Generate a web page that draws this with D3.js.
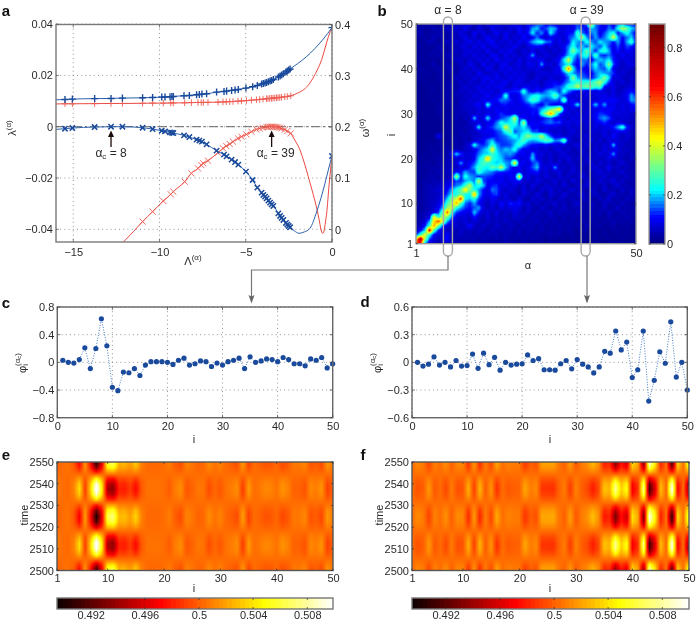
<!DOCTYPE html>
<html><head><meta charset="utf-8">
<script src="https://cdn.jsdelivr.net/npm/d3@7/dist/d3.min.js"></script>
<style>
html,body{margin:0;padding:0;background:#fff}
#wrap{position:relative;width:697px;height:623px;overflow:hidden}
canvas,svg{position:absolute;left:0;top:0}
canvas{filter:blur(.6px)}
svg{filter:blur(.3px)}
text{font-family:"Liberation Sans",Arial,sans-serif;font-size:11px;fill:#2a2a2a}
</style></head><body><div id="wrap"></div>
<script>
// ---------- panel a ----------
const blueLam=[-15.48,-15.05,-13.76,-12.81,-12.15,-10.98,-10.40,-9.87,-9.68,-9.39,-9.28,-9.20,-8.58,-8.27,-7.85,-7.69,-7.54,-7.27,-6.69,-6.26,-6.11,-5.82,-5.62,-5.43,-4.99,-4.60,-4.33,-4.08,-3.98,-3.88,-3.79,-3.69,-3.59,-3.50,-3.40,-3.11,-3.01,-2.92,-2.82,-2.67,-2.59,-2.51,-2.43,0];
const blueOmega=[.2537,.2544,.2554,.2557,.2564,.2570,.2577,.2583,.2586,.2590,.2593,.2596,.2609,.2616,.2629,.2635,.2642,.2648,.2681,.2694,.2700,.2714,.2723,.2733,.2759,.2785,.2811,.2838,.2851,.2860,.2870,.2883,.2896,.2909,.2928,.2975,.2994,.3014,.3040,.3072,.3092,.3112,.3131,.3940];
const blueLambda=[-.00078,-.00052,-.00013,0,0,-.00039,-.00091,-.00156,-.00182,-.00221,-.00234,-.00247,-.00338,-.00403,-.00506,-.00545,-.00584,-.00688,-.00935,-.01091,-.01156,-.01286,-.01377,-.01481,-.01753,-.02078,-.02377,-.02571,-.02662,-.02727,-.02792,-.02883,-.02961,-.03026,-.03091,-.03377,-.03481,-.03558,-.03636,-.03753,-.03818,-.03870,-.03922,-.01143];
const blueOmegaCurveLam=[-16,-2,-1.5,-1,-.5];
const blueOmegaCurve=[.2531,.3235,.3366,.3529,.3718];
const blueLambdaCurveLam=[-16,-2.2,-1.91,-1.6,-1.275,-.887,-.406,-.2];
const blueLambdaCurve=[-.00104,-.0405,-.04156,-.0410,-.0396,-.03314,-.02207,-.0165];
const redLam=[-15.48,-15.05,-13.76,-12.81,-12.15,-10.98,-10.40,-9.78,-9.35,-9.20,-8.54,-8.15,-7.77,-7.58,-7.46,-7.19,-6.61,-6.32,-6.13,-5.93,-5.74,-5.45,-5.25,-4.96,-4.67,-4.38,-4.19,-4.0,-3.8,-3.71,-3.61,-3.51,-3.42,-3.32,-3.22,-3.13,-3.03,-2.93,-2.74,-2.59,-2.39];
const redOmega=[.2453,.2453,.2456,.2459,.2459,.2463,.2466,.2466,.2469,.2469,.2472,.2476,.2479,.2479,.2479,.2482,.2485,.2489,.2492,.2495,.2498,.2505,.2508,.2515,.2524,.2531,.2537,.2544,.2551,.2554,.2557,.2560,.2564,.2567,.2570,.2573,.2577,.2580,.2590,.2596,.2609];
const redXLam=[-10.98,-10.40,-9.78,-9.35,-9.20,-8.54,-8.15,-7.77,-7.58,-7.46,-7.19,-6.61,-6.32,-6.13,-5.93,-5.74,-5.45,-5.25,-4.96,-4.67,-4.38,-4.19,-4.0,-3.8,-3.71,-3.61,-3.51,-3.42,-3.32,-3.22,-3.13,-3.03,-2.93,-2.74,-2.59,-2.39];
const redLambda=[-.0370,-.03312,-.02896,-.02636,-.02532,-.02143,-.01818,-.01623,-.01494,-.01429,-.01325,-.01013,-.00844,-.00753,-.00675,-.00584,-.00455,-.0039,-.00299,-.00195,-.00104,-.00065,-.00039,-.00013,-.00006,0,0,0,-.00006,-.00013,-.00026,-.00039,-.00065,-.00117,-.00169,-.0026];
const redOmegaCurveLam=[-16,-2,-1.7,-1.4,-1.1,-.8,-.6,-.4,-.2,0];
const redOmegaCurve=[.2450,.2661,.2714,.2805,.2955,.3151,.3314,.3542,.3770,.3940];
const redLambdaCurveLam=[-12.2,-11.5,-2.26,-2.09,-1.855,-1.62,-1.374,-1.16,-.887,-.72,-.62,-.539,-.46,-.38,-.307,-.17,0];
const redLambdaCurve=[-.0457,-.0408,-.004,-.00596,-.00908,-.01376,-.01949,-.02468,-.0317,-.03715,-.04066,-.04156,-.04066,-.03715,-.03364,-.02272,-.01143];
const lamTicks=[-15,-10,-5,0], lambdaTicks=[-.04,-.02,0,.02,.04], omegaTicks=[0,.1,.2,.3,.4];
const arrowLam=[-12.81,-3.5], arrowLabels=["8","39"];

// ---------- panel b : rows run from i=50 (top) to i=1 (bottom), hundredths ----------
const overlapRows=[
[3,2,4,5,3,2,5,3,7,4,8,5,9,4,7,4,9,6,10,5,9,6,11,7,5,12,10,14,16,9,11,8,6,10,7,11,14,9,16,42,16,12,8,14,9,16,18,11,13,9],
[2,4,3,2,5,3,4,6,4,8,5,10,6,3,9,5,4,10,6,8,4,9,6,12,7,10,18,20,11,14,20,18,9,7,10,8,16,13,10,20,16,11,9,16,12,24,36,30,20,16],
[3,5,2,4,3,5,3,4,6,5,9,6,4,11,6,9,5,7,11,6,10,7,5,11,8,12,22,12,17,9,22,14,7,9,11,12,26,16,11,16,18,9,14,20,24,11,18,24,16,9],
[2,3,4,2,6,3,5,2,7,4,6,10,5,9,4,7,11,6,8,4,11,5,9,6,12,7,10,16,9,7,10,8,9,7,13,16,22,35,18,11,18,12,16,22,40,18,11,16,20,10],
[3,2,3,5,4,2,4,6,3,8,5,7,11,5,10,6,9,12,5,9,6,10,5,11,7,12,18,22,24,16,14,7,10,6,11,22,18,14,24,18,14,22,18,16,11,18,9,18,26,11],
[2,4,2,3,2,5,3,3,6,4,7,9,4,10,6,11,5,8,10,5,8,6,11,7,5,8,10,11,9,6,9,6,8,10,16,24,16,20,14,22,18,14,22,14,9,14,8,14,12,8],
[3,2,3,2,4,3,5,3,4,6,5,7,9,6,8,5,11,6,5,10,7,11,6,5,9,6,9,5,9,7,5,9,6,9,18,33,22,18,30,20,12,22,26,18,8,12,7,11,9,6],
[2,3,2,4,3,4,2,5,6,4,5,9,5,10,6,8,5,11,9,5,10,6,9,5,7,9,18,7,6,9,7,5,9,12,20,22,14,22,26,14,28,14,12,16,11,7,11,7,9,6],
[2,3,3,2,3,2,4,3,4,6,7,4,8,5,9,6,9,5,11,7,8,9,5,10,6,9,7,9,10,6,6,9,11,22,40,18,11,16,16,9,16,20,18,22,12,9,7,9,7,6],
[3,2,2,3,5,2,3,5,3,4,6,5,10,7,4,11,6,9,5,9,10,5,8,9,6,9,10,6,18,7,9,5,14,18,24,14,9,18,12,16,24,14,18,33,14,8,6,8,9,6],
[2,4,3,2,3,4,2,4,6,3,5,8,5,9,6,5,11,7,5,10,7,11,6,9,5,8,7,9,7,5,6,9,10,26,55,22,11,12,9,14,20,16,14,22,9,7,6,7,6,5],
[2,2,3,3,2,3,4,3,4,3,7,5,8,4,11,7,5,8,9,5,10,6,10,7,9,6,5,7,8,9,7,9,9,14,22,18,14,14,11,9,16,20,18,16,13,6,8,6,5,6],
[2,3,2,3,2,3,3,2,4,6,4,7,5,9,6,9,11,6,10,7,6,10,7,9,8,6,5,9,7,5,9,6,7,10,16,34,18,16,14,11,16,22,33,20,7,9,6,5,7,5],
[2,2,3,2,2,3,3,4,3,4,7,4,8,6,5,10,6,11,7,9,11,6,9,10,7,6,9,7,5,9,9,11,8,13,18,22,26,24,26,24,30,36,24,13,8,6,9,5,7,6],
[2,2,2,3,3,2,4,3,6,3,5,8,5,7,9,6,10,7,9,10,7,5,10,7,9,10,7,10,6,9,10,13,14,18,26,28,38,28,32,30,26,28,11,8,9,6,5,7,8,4],
[2,2,2,2,3,2,3,4,3,4,7,5,8,6,8,10,7,9,6,9,10,12,12,13,26,13,9,12,11,16,20,18,13,24,16,12,8,10,7,9,8,10,7,6,9,5,7,9,11,9],
[2,2,2,3,2,3,2,4,3,5,4,7,5,9,7,8,11,7,9,11,26,9,8,10,16,18,22,24,20,18,20,30,18,13,9,7,9,6,9,6,9,8,10,7,9,6,8,10,18,12],
[2,2,2,2,3,2,4,3,4,3,6,5,8,6,8,10,8,10,11,16,15,13,8,10,13,20,27,24,16,13,15,16,13,30,9,10,6,8,6,8,7,10,9,11,11,9,7,9,18,16],
[2,2,2,2,2,3,2,3,4,3,5,7,6,9,11,7,24,10,8,11,12,9,10,8,11,12,16,12,9,16,11,9,10,8,9,11,22,8,6,9,20,10,18,8,10,7,9,7,10,13],
[2,2,2,2,2,3,3,2,3,4,5,6,7,6,9,7,10,8,11,8,10,9,8,10,9,10,11,12,18,22,30,36,46,12,7,9,6,8,6,9,8,10,9,11,10,7,9,7,10,8],
[2,2,2,2,2,3,2,3,3,4,5,4,7,6,8,7,9,8,10,13,10,9,11,8,10,9,12,10,24,36,52,32,14,8,9,6,9,6,8,7,10,13,12,10,7,9,7,8,6,7],
[2,2,2,2,2,2,3,3,2,5,3,6,4,20,7,9,22,9,10,13,16,20,38,13,11,8,10,8,10,13,15,9,10,8,6,9,7,9,6,8,10,15,18,14,9,6,8,7,6,5],
[2,2,2,2,2,2,2,3,3,3,4,3,7,6,8,7,9,10,16,24,20,22,28,14,36,9,11,9,12,14,16,13,14,8,9,7,9,6,8,6,9,10,13,9,6,9,7,6,5,6],
[2,2,2,2,2,2,2,3,2,4,3,5,4,8,22,7,11,13,18,20,42,24,20,18,22,16,9,11,7,10,8,9,7,6,8,6,8,5,7,6,9,6,8,9,12,18,26,12,7,5],
[2,2,2,2,2,2,2,3,3,3,5,3,6,5,8,9,10,10,13,16,24,30,14,18,20,22,14,14,9,10,7,6,8,5,7,9,5,7,5,8,6,7,9,6,8,10,9,8,5,6],
[2,2,2,2,2,10,3,2,3,3,4,5,4,7,6,9,8,10,12,14,16,20,24,18,26,34,28,26,38,22,14,8,9,6,8,5,7,5,8,6,7,5,9,6,12,7,5,7,6,4],
[2,2,2,2,2,3,2,3,3,4,3,5,4,7,9,10,16,20,12,13,14,16,18,22,28,20,18,20,24,28,26,16,18,30,8,6,4,8,5,9,5,8,4,9,6,8,6,7,4,5],
[2,2,2,3,2,3,3,3,2,4,3,6,9,24,14,12,16,26,18,13,13,14,20,26,18,13,11,10,8,10,7,9,6,8,5,7,9,5,8,4,7,5,8,6,20,5,7,4,6,3],
[2,2,2,3,3,2,3,4,3,5,4,6,7,8,13,18,22,42,20,16,20,18,24,14,9,10,7,9,6,8,5,7,9,5,8,4,6,8,5,4,8,5,9,6,7,9,5,7,4,5],
[2,2,3,2,3,3,4,3,10,20,13,7,8,10,16,20,20,26,22,18,16,18,14,9,11,7,18,8,9,6,8,5,7,9,5,6,4,8,5,7,5,9,6,8,18,5,7,4,6,3],
[2,3,2,3,3,4,3,5,4,7,6,8,7,10,20,26,50,26,22,20,14,13,11,9,8,10,20,9,7,5,8,4,7,6,9,5,7,4,8,5,7,5,6,9,6,7,5,4,6,4],
[2,2,3,3,2,4,3,5,6,7,18,8,10,14,22,28,26,22,20,22,18,16,45,9,11,7,13,16,8,6,9,5,8,4,7,6,4,7,5,9,4,8,5,7,4,6,8,5,4,3],
[2,3,3,3,4,3,5,4,6,5,8,7,12,18,26,24,22,30,26,38,20,13,9,11,7,10,14,20,7,9,6,18,5,7,4,8,5,6,4,7,8,5,6,10,5,7,4,6,3,5],
[2,3,2,4,3,5,4,6,5,11,11,18,14,13,27,20,18,16,13,12,12,11,9,10,7,9,10,12,6,8,5,7,9,4,6,8,5,7,4,5,6,9,5,7,4,6,8,4,5,3],
[3,2,3,4,4,3,5,4,7,35,12,24,18,16,12,14,13,12,9,10,8,11,9,42,7,9,6,8,5,9,6,4,8,5,7,4,6,9,5,4,7,5,8,4,6,5,4,7,3,5],
[2,3,4,3,5,4,6,7,8,14,12,18,20,16,38,14,11,10,9,11,7,9,10,12,6,8,5,9,7,4,6,8,5,7,4,9,5,3,7,5,4,8,5,6,9,4,7,3,5,4],
[3,2,4,5,4,6,7,9,11,16,18,26,38,20,24,20,9,12,13,7,10,6,9,5,8,4,9,6,4,8,5,7,4,9,5,3,7,5,8,4,6,4,7,3,6,8,4,5,3,4],
[2,3,4,5,6,7,8,11,18,24,30,46,30,24,18,11,8,16,14,8,5,9,6,4,9,5,7,3,8,5,9,4,7,3,6,8,4,6,3,7,5,3,8,4,5,3,7,4,6,3],
[3,3,4,5,5,6,8,14,22,24,30,24,22,50,18,11,8,12,14,6,9,5,7,4,8,6,4,9,5,3,8,6,4,9,5,3,6,8,4,5,7,4,3,6,8,4,5,3,6,3],
[2,3,4,5,5,7,10,20,33,38,60,22,20,24,14,9,7,10,8,5,8,6,4,9,5,3,8,5,7,4,6,3,7,5,4,6,3,7,5,4,3,6,4,8,3,5,3,6,4,3],
[3,3,4,5,6,8,13,28,36,50,28,16,12,18,10,7,5,9,6,12,7,13,10,12,6,8,4,7,3,6,5,8,4,6,3,5,8,4,3,6,4,3,7,4,5,3,6,3,4,3],
[3,2,4,5,7,10,18,34,40,24,18,13,11,14,18,8,5,8,4,9,6,8,9,8,4,7,5,3,7,5,3,6,4,7,3,5,4,6,3,5,4,3,6,3,4,7,3,5,3,4],
[2,4,5,6,8,13,30,56,24,14,11,9,8,20,12,6,8,5,9,4,7,5,9,6,4,7,3,6,4,5,7,3,6,4,5,3,6,4,3,5,3,5,3,6,4,3,5,3,4,3],
[3,4,5,8,42,24,38,32,16,9,7,8,6,12,7,5,8,4,7,5,6,4,8,5,7,3,6,4,5,3,6,4,3,5,3,5,3,4,3,5,3,4,2,5,3,4,3,5,3,3],
[3,5,8,18,45,58,38,18,9,7,6,8,5,8,6,4,7,5,6,4,7,5,4,6,3,5,4,6,3,5,3,5,3,4,3,4,3,5,3,3,4,2,4,3,5,3,4,3,4,2],
[3,6,12,26,52,32,13,8,6,7,5,7,12,6,4,7,5,4,7,5,4,6,5,3,6,4,5,3,5,3,4,3,5,3,4,3,4,2,5,3,3,4,2,3,4,2,3,3,2,3],
[5,10,20,66,28,12,7,5,6,4,7,5,6,4,6,5,3,6,4,5,4,5,3,5,3,5,4,3,5,3,4,3,4,3,4,3,2,4,3,2,3,2,3,2,3,3,2,3,2,2],
[12,26,42,24,10,8,6,11,5,4,6,4,5,4,5,3,5,4,5,3,5,4,3,5,3,4,3,4,3,3,4,3,4,2,3,3,2,3,2,3,3,2,3,2,2,3,2,3,2,2],
[44,78,34,14,8,6,7,11,4,5,4,5,4,5,3,5,4,3,4,3,5,3,4,3,4,3,4,3,3,2,3,3,2,3,2,3,2,3,2,2,3,2,2,3,2,2,3,2,2,2],
[62,60,18,7,6,4,4,7,4,3,4,3,4,4,3,4,3,4,3,3,4,3,3,2,4,3,2,3,3,2,3,2,3,2,3,2,2,3,2,2,2,2,1,2,2,3,2,2,2,1]
];
const indexTicks=[1,10,20,30,40,50], alphaTicks=[1,50], overlapBarTicks=[0,.2,.4,.6,.8];
const selectedAlpha=[8,39];

// ---------- panels c, d ----------
const phiC=[.03,0,-.01,.04,.21,-.09,.20,.63,.24,-.36,-.41,-.14,-.15,-.09,-.19,-.04,.01,.01,.01,0,-.03,.03,.06,-.04,-.02,.02,.01,-.06,-.01,-.04,.01,.03,.06,-.09,.08,0,.02,.05,.04,.01,.07,.04,-.02,-.02,-.05,.05,.03,.07,-.08,-.02];
const phiD=[0,-.04,-.02,.06,-.03,0,-.05,.02,-.04,-.035,.09,-.065,.10,-.025,.055,-.085,0,-.03,-.02,-.015,.08,.02,.04,-.08,-.08,-.085,-.015,.02,-.07,.03,-.02,-.05,-.115,-.05,.12,.10,.34,.135,.22,-.165,-.08,.34,-.42,-.195,.115,-.01,.44,-.16,0,-.30];
const phiXTicks=[0,10,20,30,40,50], phiCTicks=[-.8,-.4,0,.4,.8], phiDTicks=[-.6,-.3,0,.3,.6];

// ---------- panels e, f ----------
const times=[2500,2502.5,2505,2507.5,2510,2512.5,2515,2517.5,2520,2522.5,2525,2527.5,2530,2532.5,2535,2537.5,2540,2542.5,2545,2547.5,2550];
const timeSwing=[-.94,-.58,-.02,.55,.93,.98,.68,.15,-.44,-.87,-1,-.77,-.28,.31,.80,1,.85,.40,-.19,-.71,-.98];
const swingC=.0167, swingD=.022, mean=.5004;
const timeTicks=[2500,2510,2520,2530,2540,2550], heatBarTicks=[.492,.496,.5,.504,.508];

const W=697,H=623;
const wrap=d3.select("#wrap");
const canvas=wrap.append("canvas").attr("width",W).attr("height",H).node();
const ctx=canvas.getContext("2d");
const svg=wrap.append("svg").attr("width",W).attr("height",H);
const defs=svg.append("defs");
const FR="#7a7a7a",TXT="#2a2a2a",BLUE="#1a4a9c",RED="#e8352c",PALE="#ee5a50";

const minusFmt=f=>v=>d3.format(f)(v).replace("-","\u2212");
const jetColor=d3.scaleLinear().domain([0,.11,.22,.43,.64,.9]).range(["#000080","#0000ff","#00ffff","#ffff00","#ff0000","#6b0000"]).clamp(true);
const hotColor=d3.scaleLinear().domain([.4895,.49715,.5048,.5099]).range(["#0a0000","#ff0000","#ffff00","#ffffff"]).clamp(true);

function paint(x0,y0,w,h,fn){
  const img=ctx.createImageData(w,h);
  for(let py=0;py<h;py++)for(let px=0;px<w;px++){
    const c=d3.rgb(fn(px+.5,py+.5)),k=4*(py*w+px);
    img.data[k]=c.r;img.data[k+1]=c.g;img.data[k+2]=c.b;img.data[k+3]=255;
  }
  ctx.putImageData(img,x0,y0);
}
function bilinear(rows,fr,fc){
  const r0=Math.max(0,Math.min(rows.length-1,Math.floor(fr))),r1=Math.min(rows.length-1,r0+1),
        c0=Math.max(0,Math.min(rows[0].length-1,Math.floor(fc))),c1=Math.min(rows[0].length-1,c0+1),
        a=fr-r0,b=fc-c0;
  return (rows[r0][c0]*(1-b)+rows[r0][c1]*b)*(1-a)+(rows[r1][c0]*(1-b)+rows[r1][c1]*b)*a;
}
function frame(x0,y0,w,h,col,sw){
  svg.append("rect").attr("x",x0).attr("y",y0).attr("width",w).attr("height",h).attr("fill","none").attr("stroke",col||FR).attr("stroke-width",sw||1.4);
}
function axis(gen,tx,ty,vals,fmt,size){
  const g=svg.append("g").attr("transform",`translate(${tx},${ty})`).call(gen.tickValues(vals).tickFormat(fmt).tickSize(size).tickPadding(0));
  g.select(".domain").remove();
  g.selectAll("line").attr("stroke","#555").attr("stroke-width",.7);
  g.selectAll("text").attr("fill",TXT).style("font-size","11px").style("font-family",'"Liberation Sans",Arial,sans-serif');
  return g;
}
function gridLines(xs,ys,x,y,xr,yr){
  const g=svg.append("g").attr("stroke","#777").attr("stroke-width",.8).attr("stroke-dasharray","1 3.2");
  xs.forEach(v=>g.append("line").attr("x1",x(v)).attr("x2",x(v)).attr("y1",yr[0]).attr("y2",yr[1]));
  ys.forEach(v=>g.append("line").attr("y1",y(v)).attr("y2",y(v)).attr("x1",xr[0]).attr("x2",xr[1]));
}
function label(x,y,t,opt={}){
  const el=svg.append("text").attr("x",x).attr("y",y).attr("text-anchor",opt.anchor||"middle").attr("dominant-baseline","central").text(t);
  if(opt.rot)el.attr("transform",`rotate(${opt.rot},${x},${y})`);
  if(opt.bold)el.style("font-weight","bold").style("font-size",opt.size+"px").style("fill","#111");
  if(opt.size&&!opt.bold)el.style("font-size",opt.size+"px");
  return el;
}
function sup(el,t,size,dy){el.append("tspan").attr("dy",dy).style("font-size",size+"px").text(t);}
[["a",6,10],["b",382,10],["c",6,302],["d",365,301],["e",6,454],["f",363,454]].forEach(d=>label(d[1],d[2],d[0],{bold:true,size:15}));

// ---- panel a ----
const ax={l:56,r:332,t:24.5,b:242};
const xL=d3.scaleLinear().domain([-16,0]).range([ax.l,ax.r]);
const yLam=d3.scaleLinear().domain([0,-.04]).range([126.7,229.3]);
const yOm=d3.scaleLinear().domain([0,.4]).range([229.5,24.5]);
gridLines(lamTicks,lambdaTicks,xL,yLam,[ax.l,ax.r],[ax.t,ax.b]);
defs.append("clipPath").attr("id","ca").append("rect").attr("x",ax.l).attr("y",ax.t).attr("width",ax.r-ax.l).attr("height",ax.b-ax.t);
const pa=svg.append("g").attr("clip-path","url(#ca)");
pa.append("line").attr("x1",ax.l).attr("x2",ax.r).attr("y1",yLam(0)).attr("y2",yLam(0)).attr("stroke","#666").attr("stroke-width",1).attr("stroke-dasharray","9 3 2 3");
function curve(lams,vals,exLam,exVal,y,col,sw){
  const pts=lams.map((l,i)=>[l,vals[i]]).concat(exLam.map((l,i)=>[l,exVal[i]])).sort((a,b)=>a[0]-b[0]);
  pa.append("path").attr("d",d3.line().x(d=>xL(d[0])).y(d=>y(d[1])).curve(d3.curveMonotoneX)(pts)).attr("fill","none").attr("stroke",col).attr("stroke-width",sw);
}
curve(redLam,redOmega,redOmegaCurveLam,redOmegaCurve,yOm,RED,.9);
curve(redXLam,redLambda,redLambdaCurveLam,redLambdaCurve,yLam,RED,.9);
curve(blueLam,blueOmega,blueOmegaCurveLam,blueOmegaCurve,yOm,"#2b62ae",1);
curve(blueLam,blueLambda,blueLambdaCurveLam,blueLambdaCurve,yLam,"#2b62ae",1);
function marks(lams,vals,y,type,size,col,sw){
  pa.append("g").selectAll("path").data(lams).join("path").attr("transform",(l,i)=>`translate(${xL(l)},${y(vals[i])})`)
    .attr("d",d3.symbol(type,size)()).attr("fill","none").attr("stroke",col).attr("stroke-width",sw);
}
marks(redLam,redOmega,yOm,d3.symbolPlus,16,PALE,.9);
marks(redXLam,redLambda,yLam,d3.symbolTimes,26,PALE,.9);
marks(blueLam,blueOmega,yOm,d3.symbolPlus,18,BLUE,1.4);
marks(blueLam,blueLambda,yLam,d3.symbolTimes,20,BLUE,1.5);
frame(ax.l,ax.t,ax.r-ax.l,ax.b-ax.t);
axis(d3.axisBottom(xL),0,ax.b+6,lamTicks,minusFmt("d"),0);
axis(d3.axisLeft(yLam),ax.l-3,0,lambdaTicks,v=>v===0?"0":minusFmt(".2f")(v),0);
axis(d3.axisRight(yOm),ax.r+3,0,omegaTicks,v=>v===0?"0":d3.format(".1f")(v),0);
{const g=svg.append("g").attr("stroke","#555").attr("stroke-width",.7);
 lamTicks.forEach(v=>{g.append("line").attr("x1",xL(v)).attr("x2",xL(v)).attr("y1",ax.b).attr("y2",ax.b-3);g.append("line").attr("x1",xL(v)).attr("x2",xL(v)).attr("y1",ax.t).attr("y2",ax.t+3);});
 lambdaTicks.forEach(v=>g.append("line").attr("x1",ax.l).attr("x2",ax.l+3).attr("y1",yLam(v)).attr("y2",yLam(v)));
 omegaTicks.forEach(v=>g.append("line").attr("x1",ax.r).attr("x2",ax.r-3).attr("y1",yOm(v)).attr("y2",yOm(v)));}
{let e=label(193,261,"\u039b",{});sup(e,"(\u03b1)",8,-4);
 e=label(12,128,"\u03bb",{rot:-90});sup(e,"(\u03b1)",8,-4);
 e=label(365,128,"\u03c9",{rot:-90});sup(e,"(\u03b1)",8,-4);}
arrowLam.forEach((l,i)=>{
  const x=xL(l);
  svg.append("line").attr("x1",x).attr("x2",x).attr("y1",147).attr("y2",135).attr("stroke","#1a0a0a").attr("stroke-width",1.3);
  svg.append("path").attr("d",d3.line()([[x,130.5],[x+3,137],[x-3,137]])+"Z").attr("fill","#1a0a0a");
  const e=label(x+(i?4:0),153,"\u03b1",{size:12});
  e.append("tspan").attr("dy",2.5).style("font-size","8px").text("c");
  e.append("tspan").attr("dy",-2.5).style("font-size","12px").text(" = "+arrowLabels[i]);
});

// ---- panel b ----
const bx={l:416,r:636,t:24,b:243.7};
const xA=d3.scaleLinear().domain([1,50]).range([bx.l,bx.r]);
const yI=d3.scaleLinear().domain([50,1]).range([bx.t,bx.b]);
paint(bx.l,bx.t,bx.r-bx.l,Math.round(bx.b-bx.t),(px,py)=>{
  const a=xA.invert(bx.l+px)-1, r=50-yI.invert(bx.t+py);
  return jetColor(bilinear(overlapRows,r,a)/100);
});
const yC=d3.scaleLinear().domain([0,.8]).range([244,47.8]);
const cb={l:649,r:665,t:24,b:244};
paint(cb.l,cb.t,cb.r-cb.l,cb.b-cb.t,(px,py)=>{
  const v=yC.invert(cb.t+py);
  return jetColor(Math.round(v/.9*64)/64*.9);
});
frame(bx.l,bx.t,bx.r-bx.l,bx.b-bx.t,"#999");
frame(cb.l,cb.t,cb.r-cb.l,cb.b-cb.t,"#999");
axis(d3.axisLeft(yI),bx.l-3,0,indexTicks,d3.format("d"),0);
axis(d3.axisBottom(xA),0,bx.b+5,alphaTicks,d3.format("d"),0);
axis(d3.axisRight(yC),cb.r+2,0,overlapBarTicks,v=>v===0?"0":d3.format(".1f")(v),0);
{const g=svg.append("g").attr("stroke","#333").attr("stroke-width",.7);
 indexTicks.forEach(v=>{g.append("line").attr("x1",bx.r).attr("x2",bx.r-2).attr("y1",yI(v)).attr("y2",yI(v));g.append("line").attr("x1",bx.l).attr("x2",bx.l+2).attr("y1",yI(v)).attr("y2",yI(v));});
 overlapBarTicks.forEach(v=>{g.append("line").attr("x1",cb.l).attr("x2",cb.l+2).attr("y1",yC(v)).attr("y2",yC(v));g.append("line").attr("x1",cb.r).attr("x2",cb.r-2).attr("y1",yC(v)).attr("y2",yC(v));});}
label(528,265,"\u03b1",{});
label(391,135,"i",{rot:-90});
selectedAlpha.forEach((a,i)=>{
  const x=xA(a)+(i?-1:0.5);
  svg.append("rect").attr("x",x-4.5).attr("y",17).attr("width",9).attr("height",239).attr("rx",4.5).attr("fill","none").attr("stroke","#aaa").attr("stroke-width",1.4);
  label(x+(i?1:0),10,"\u03b1 = "+a,{size:12});
});
const arrowG=svg.append("g").attr("fill","none").attr("stroke","#777").attr("stroke-width",1.2);
arrowG.append("path").attr("d","M448,256V270H251.5V297");
arrowG.append("path").attr("d","M587,256V297");
[251.5,587].forEach(x=>svg.append("path").attr("d",d3.line()([[x,303.5],[x+3,295],[x,296.5],[x-3,295]])+"Z").attr("fill","#666"));

// ---- panels c, d ----
function phiPanel(l,r,vals,yTicks,dom,lx,ix){
  const t=307,b=417.7;
  const x=d3.scaleLinear().domain([0,50]).range([l,r]),y=d3.scaleLinear().domain(dom).range([b,t]);
  gridLines(phiXTicks,yTicks,x,y,[l,r],[t,b]);
  const pts=vals.map((v,i)=>[i+1,v]);
  svg.append("path").attr("d",d3.line().x(d=>x(d[0])).y(d=>y(d[1]))(pts)).attr("fill","none").attr("stroke","#2f6dbf").attr("stroke-width",.9).attr("stroke-dasharray","1 1.6");
  svg.append("g").selectAll("circle").data(pts).join("circle").attr("cx",d=>x(d[0])).attr("cy",d=>y(d[1])).attr("r",2.6).attr("fill",BLUE);
  frame(l,t,r-l,b-t,"#666");
  axis(d3.axisBottom(x),0,b+4,phiXTicks,d3.format("d"),0);
  axis(d3.axisLeft(y),l-3,0,yTicks,v=>v===0?"0":minusFmt(".1f")(v),0);
  const g=svg.append("g").attr("stroke","#444").attr("stroke-width",.7);
  phiXTicks.forEach(v=>{g.append("line").attr("x1",x(v)).attr("x2",x(v)).attr("y1",b).attr("y2",b-3);g.append("line").attr("x1",x(v)).attr("x2",x(v)).attr("y1",t).attr("y2",t+3);});
  yTicks.forEach(v=>{g.append("line").attr("y1",y(v)).attr("y2",y(v)).attr("x1",l).attr("x2",l+3);g.append("line").attr("y1",y(v)).attr("y2",y(v)).attr("x1",r).attr("x2",r-3);});
  label(ix,439,"i",{});
  const e=label(lx,363,"\u03c6",{rot:-90,size:11});
  e.append("tspan").attr("dy",3).style("font-size","8px").text("i");
  e.append("tspan").attr("dy",-8).attr("dx",-2).style("font-size","8px").text("(\u03b1");
  e.append("tspan").attr("dy",2).style("font-size","6px").text("c");
  e.append("tspan").attr("dy",-2).style("font-size","8px").text(")");
}
phiPanel(57.3,332.7,phiC,phiCTicks,[-.8,.8],22,194);
phiPanel(412,687.3,phiD,phiDTicks,[-.6,.6],377,550);

// ---- panels e, f ----
const heatE=timeSwing.map(w=>phiC.map(p=>mean+swingC*p*w));
const heatF=timeSwing.map(w=>phiD.map(p=>mean+swingD*p*w));
function heatPanel(l,r,rows,lx,ix){
  const t=462,b=570.5,w=Math.round(r-l),h=Math.round(b-t);
  const x=d3.scaleLinear().domain([1,50]).range([l,r]),y=d3.scaleLinear().domain([2500,2550]).range([b,t]);
  const fT=d3.scaleLinear().domain([2500,2550]).range([0,times.length-1]);
  paint(l,t,w,h,(px,py)=>hotColor(bilinear(rows,fT(y.invert(t+py)),x.invert(l+px)-1)));
  frame(l,t,r-l,b-t,"#555");
  axis(d3.axisBottom(x),0,b+4,indexTicks,d3.format("d"),0);
  axis(d3.axisLeft(y),l-3,0,timeTicks,d3.format("d"),0);
  const g=svg.append("g").attr("stroke","#333").attr("stroke-width",.7);
  indexTicks.forEach(v=>{g.append("line").attr("x1",x(v)).attr("x2",x(v)).attr("y1",b).attr("y2",b-2);g.append("line").attr("x1",x(v)).attr("x2",x(v)).attr("y1",t).attr("y2",t+2);});
  timeTicks.forEach(v=>{g.append("line").attr("y1",y(v)).attr("y2",y(v)).attr("x1",l).attr("x2",l+2);g.append("line").attr("y1",y(v)).attr("y2",y(v)).attr("x1",r).attr("x2",r-2);});
  label(ix,588,"i",{});
  label(lx,515,"time",{rot:-90});
  const ct=598,cbH=11,xc=d3.scaleLinear().domain([.492,.508]).range([l+33.7,l+33.7+216.6]);
  paint(l,ct,w,cbH,(px)=>{const v=xc.invert(l+px);const f=(v-.4895)/.0204;return hotColor(.4895+.0204*Math.round(f*64)/64);});
  frame(l,ct,r-l,cbH,"#777");
  axis(d3.axisBottom(xc),0,ct+cbH+2,heatBarTicks,v=>v===.5?"0.5":d3.format(".3f")(v),0);
  const g2=svg.append("g").attr("stroke","#333").attr("stroke-width",.7);
  heatBarTicks.forEach(v=>{g2.append("line").attr("x1",xc(v)).attr("x2",xc(v)).attr("y1",ct).attr("y2",ct+2);g2.append("line").attr("x1",xc(v)).attr("x2",xc(v)).attr("y1",ct+cbH).attr("y2",ct+cbH-2);});
}
heatPanel(57,333,heatE,24,194);
heatPanel(412,689,heatF,379,550);
</script></body></html>
